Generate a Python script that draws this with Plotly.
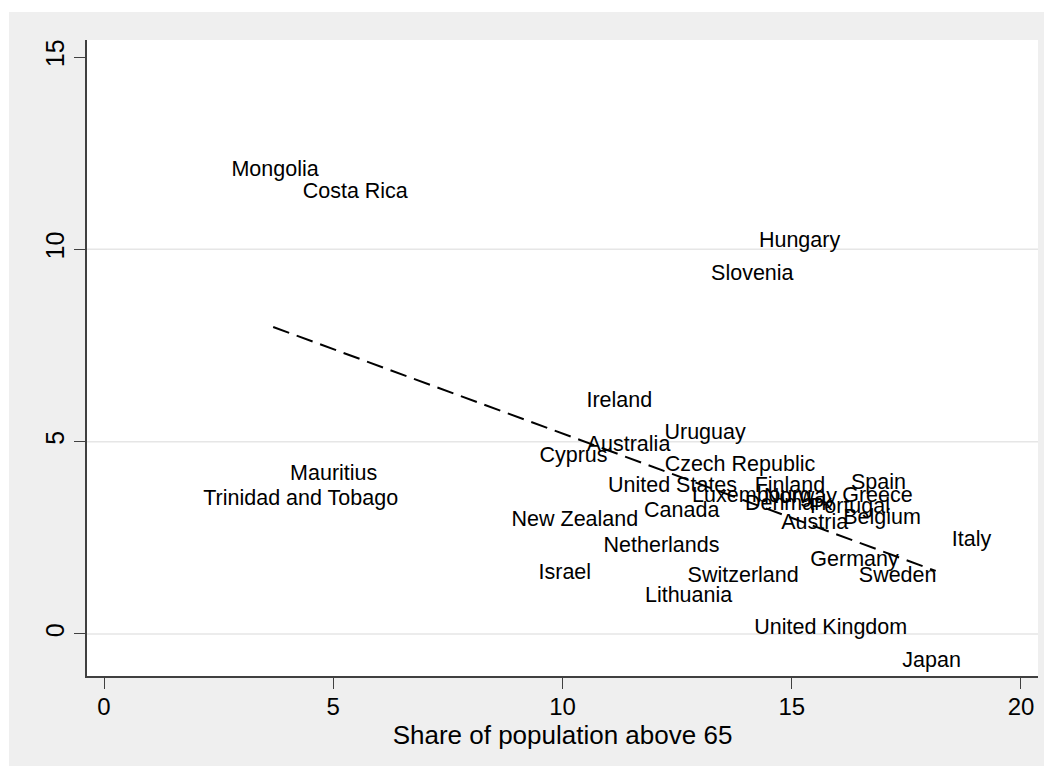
import plotly.graph_objects as go

countries = ["Mongolia", "Costa Rica", "Mauritius", "Trinidad and Tobago", "Hungary",
             "Slovenia", "Ireland", "Uruguay", "Australia", "Cyprus", "Czech Republic",
             "United States", "Luxembourg", "Finland", "Spain", "Norway", "Greece",
             "Denmark", "Portugal", "Austria", "Belgium", "Canada", "New Zealand",
             "Netherlands", "Italy", "Germany", "Israel", "Switzerland", "Sweden",
             "Lithuania", "United Kingdom", "Japan"]
share_65 = [3.73, 5.48, 5.01, 4.29, 15.17, 14.14, 11.24, 13.11, 11.44, 10.24, 13.87,
            12.40, 14.13, 14.96, 16.89, 15.19, 16.87, 14.93, 16.27, 15.50, 16.97, 12.60,
            10.27, 12.16, 18.92, 16.37, 10.05, 13.94, 17.31, 12.75, 15.85, 18.05]
y_values = [12.05, 11.47, 4.14, 3.49, 10.21, 9.33, 6.04, 5.20, 4.91, 4.60, 4.37,
            3.84, 3.58, 3.82, 3.91, 3.55, 3.58, 3.36, 3.29, 2.87, 3.00, 3.17,
            2.96, 2.28, 2.44, 1.92, 1.58, 1.50, 1.50, 0.96, 0.15, -0.71]
fit_x = [3.69, 18.14]
fit_y = [7.98, 1.64]
x_ticks = [0, 5, 10, 15, 20]
y_ticks = [0, 5, 10, 15]
grid_y = [0, 5, 10]

FONT = "Liberation Sans, Arial, sans-serif"

fig = go.Figure()
fig.add_trace(go.Scatter(
    x=share_65, y=y_values, mode="text", text=countries,
    textposition="middle center",
    textfont=dict(family=FONT, size=21.5, color="black"),
    hoverinfo="text", showlegend=False))
fig.add_trace(go.Scatter(
    x=fit_x, y=fit_y, mode="lines",
    line=dict(color="black", width=2, dash="17px,8px"),
    showlegend=False, hoverinfo="skip"))

for g in grid_y:
    fig.add_shape(type="line", xref="paper", x0=0, x1=1, yref="y", y0=g, y1=g,
                  line=dict(color="#e6e6e6", width=1.5), layer="below")

# white strips at top and left of the outer gray frame
fig.add_shape(type="rect", xref="paper", yref="paper",
              x0=-79 / 951, x1=(1036 - 79) / 951,
              y0=(636 + 28) / 636, y1=(636 + 33) / 636,
              fillcolor="white", line=dict(width=0), layer="below")
fig.add_shape(type="rect", xref="paper", yref="paper",
              x0=-80 / 951, x1=(1 - 79) / 951,
              y0=-91 / 636, y1=(636 + 33) / 636,
              fillcolor="white", line=dict(width=0), layer="below")

fig.update_layout(
    width=1036, height=758,
    margin=dict(l=79, r=6, t=32, b=90),
    paper_bgcolor="#efefef", plot_bgcolor="white",
    font=dict(family=FONT, color="black"),
    showlegend=False,
    xaxis=dict(range=[-0.371, 20.371], tickvals=x_ticks, showgrid=False, zeroline=False,
               showline=True, linecolor="#404040", linewidth=1.5, mirror=False,
               ticks="outside", ticklen=11, tickwidth=1, tickcolor="#404040",
               ticklabelstandoff=-3,
               tickfont=dict(size=24, family=FONT, color="black"),
               title=dict(text="Share of population above 65", standoff=4,
                          font=dict(size=26, family=FONT, color="black"))),
    yaxis=dict(range=[-1.092, 15.442], tickvals=y_ticks, showgrid=False, zeroline=False,
               showline=True, linecolor="#404040", linewidth=1.5,
               ticks="outside", ticklen=11, tickwidth=1, tickcolor="#404040",
               tickangle=-90,
               tickfont=dict(size=25, family=FONT, color="black")),
)

fig.write_html("out.html")
